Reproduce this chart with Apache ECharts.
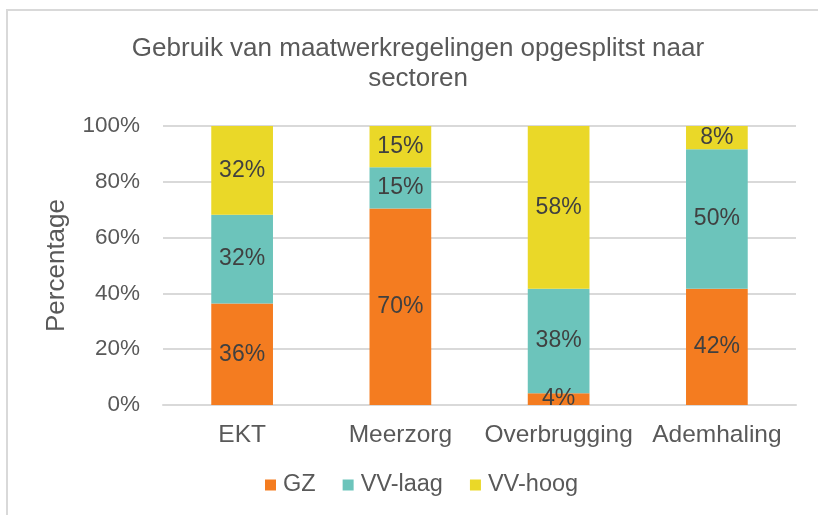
<!DOCTYPE html>
<html>
<head>
<meta charset="utf-8">
<script src="https://cdn.jsdelivr.net/npm/echarts@6/dist/echarts.min.js"></script>
<style>html,body{margin:0;padding:0;background:#fff}#c{width:818px;height:515px}</style>
</head>
<body>
<div id="c"></div>
<script>
const categories = ['EKT', 'Meerzorg', 'Overbrugging', 'Ademhaling'];
const gz = [36.4, 70.4, 4.2, 41.7];
const vvLaag = [31.8, 14.8, 37.5, 50.0];
const vvHoog = [31.8, 14.8, 58.3, 8.3];
const yTicks = [0, 20, 40, 60, 80, 100];

const FONT = '"Liberation Sans", Arial, sans-serif';
const chart = echarts.init(document.getElementById('c'), null, {renderer: 'canvas'});
const lbl = {
  show: true, position: 'inside', color: '#404040', fontSize: 23, fontFamily: FONT,
  formatter: p => Math.round(p.value) + '%'
};
function mk(name, data, color) {
  return {
    name, type: 'bar', stack: 'tot', data, barWidth: '39%',
    itemStyle: {color}, label: lbl, emphasis: {disabled: true}
  };
}
chart.setOption({
  animation: false,
  title: {
    text: 'Gebruik van maatwerkregelingen opgesplitst naar\nsectoren',
    left: 413, textAlign: 'center', top: 29, padding: 5,
    textStyle: {fontFamily: FONT, fontSize: 26, fontWeight: 'normal', color: '#595959', lineHeight: 30}
  },
  graphic: [{
    type: 'rect', silent: true,
    shape: {x: 7, y: 10, width: 900, height: 700},
    style: {fill: 'none', stroke: '#d9d9d9', lineWidth: 2}
  }],
  grid: {left: 163, right: 22, top: 126, bottom: 110},
  legend: {
    top: 468, left: 260, itemWidth: 11, itemHeight: 11, itemGap: 27,
    icon: 'rect',
    textStyle: {fontFamily: FONT, fontSize: 23.5, color: '#595959', padding: [0, 0, 0, 2]},
    data: ['GZ', 'VV-laag', 'VV-hoog']
  },
  xAxis: {
    type: 'category', data: categories,
    axisLine: {lineStyle: {color: '#d9d9d9', width: 2}},
    axisTick: {show: false},
    axisLabel: {fontFamily: FONT, fontSize: 24.5, color: '#595959', margin: 18, interval: 0, hideOverlap: false}
  },
  yAxis: {
    type: 'value', min: yTicks[0], max: yTicks[yTicks.length - 1], interval: 20,
    name: 'Percentage', nameLocation: 'middle', nameGap: 93,
    nameTextStyle: {fontFamily: FONT, fontSize: 26, color: '#595959'},
    axisLine: {show: false}, axisTick: {show: false},
    splitLine: {lineStyle: {color: '#d9d9d9', width: 2}},
    axisLabel: {fontFamily: FONT, fontSize: 22.5, color: '#595959', margin: 23, formatter: '{value}%'}
  },
  series: [
    mk('GZ', gz, '#F47C20'),
    mk('VV-laag', vvLaag, '#6CC4BB'),
    mk('VV-hoog', vvHoog, '#EAD828')
  ]
});
</script>
</body>
</html>
